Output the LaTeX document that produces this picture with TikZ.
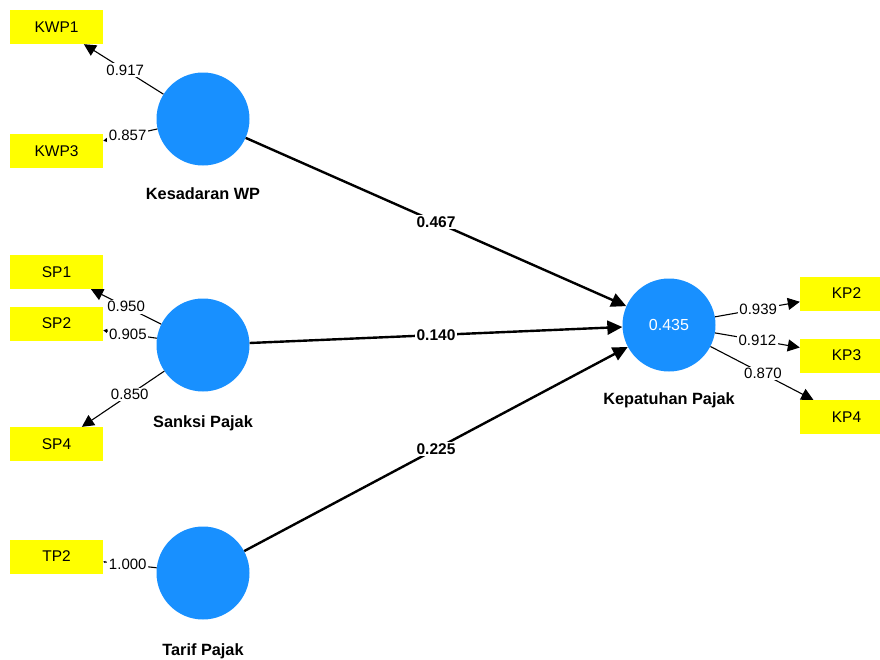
\documentclass[tikz,border=0pt]{standalone}
\usepackage{fontspec}
\setmainfont{Liberation Sans}
\usetikzlibrary{arrows.meta}
\definecolor{lvblue}{RGB}{24,144,255}
\definecolor{mvyellow}{RGB}{255,255,0}
\tikzset{
  latent/.style={circle,fill=lvblue,minimum size=93pt,inner sep=0pt,
    text=white,font=\fontsize{16}{16}\selectfont},
  indicator/.style={rectangle,fill=mvyellow,minimum width=93pt,minimum height=34pt,
    inner sep=0pt,font=\fontsize{15.5}{16}\selectfont},
  lvname/.style={anchor=base,font=\bfseries\fontsize{16.3}{17}\selectfont},
  outerload/.style={line width=1.1pt,-{Triangle[length=12pt,width=12pt]}},
  shortload/.style={line width=1.1pt,-{Triangle[length=4pt,width=4pt]}},
  innerpath/.style={line width=2.4pt,-{Triangle[length=15pt,width=14pt]}},
  loadval/.style={fill=white,inner sep=1.5pt,font=\fontsize{15}{15}\selectfont},
  pathval/.style={fill=white,inner sep=2pt,font=\bfseries\fontsize{15.5}{16}\selectfont}
}
\begin{document}
\begin{tikzpicture}[x=1pt,y=-1pt]
  \clip (0,0) rectangle (880,659);
  % Latent variables
  \node[latent] (kwp) at (203,119) {};
  \node[latent] (sp) at (203,345) {};
  \node[latent] (tp) at (203,573) {};
  \node[latent] (kp) at (669,325) {0.435};
  \node[lvname] (kwpname) at (203,199) {Kesadaran WP};
  \node[lvname] (spname) at (203,427) {Sanksi Pajak};
  \node[lvname] (tpname) at (203,655) {Tarif Pajak};
  \node[lvname] (kpname) at (669,404) {Kepatuhan Pajak};
  % Indicators
  \node[indicator] (kwp1) at (56.5,27) {KWP1};
  \node[indicator] (kwp3) at (56.5,151) {KWP3};
  \node[indicator] (sp1) at (56.5,272) {SP1};
  \node[indicator] (sp2) at (56.5,323.5) {SP2};
  \node[indicator] (sp4) at (56.5,444) {SP4};
  \node[indicator] (tp2) at (56.5,556.5) {TP2};
  \node[indicator] (kp2) at (846.5,293.5) {KP2};
  \node[indicator] (kp3) at (846.5,355.5) {KP3};
  \node[indicator] (kp4) at (846.5,417) {KP4};
  % Outer loadings
  \draw[outerload] (kwp) -- node[loadval,pos=0.48] {0.917} (kwp1);
  \draw[shortload] (kwp) -- node[loadval,pos=0.55] {0.857} (kwp3);
  \draw[outerload] (sp) -- node[loadval,pos=0.5] {0.950} (sp1);
  \draw[shortload] (sp) -- node[loadval,pos=0.54] {0.905} (sp2);
  \draw[outerload] (sp) -- node[loadval,pos=0.42] {0.850} (sp4);
  \draw[line width=1.1pt,-{Triangle[length=2pt,width=2pt]}] (tp) -- node[loadval,pos=0.54] {1.000} (tp2);
  \draw[outerload] (kp) -- node[loadval,pos=0.51] {0.939} (kp2);
  \draw[outerload] (kp) -- node[loadval,pos=0.5] {0.912} (kp3);
  \draw[outerload] (kp) -- node[loadval,pos=0.51] {0.870} (kp4);
  % Path coefficients
  \draw[innerpath] (kwp) -- node[pathval] {0.467} (kp);
  \draw[innerpath] (sp) -- node[pathval] {0.140} (kp);
  \draw[innerpath] (tp) -- node[pathval] {0.225} (kp);
\end{tikzpicture}
\end{document}
